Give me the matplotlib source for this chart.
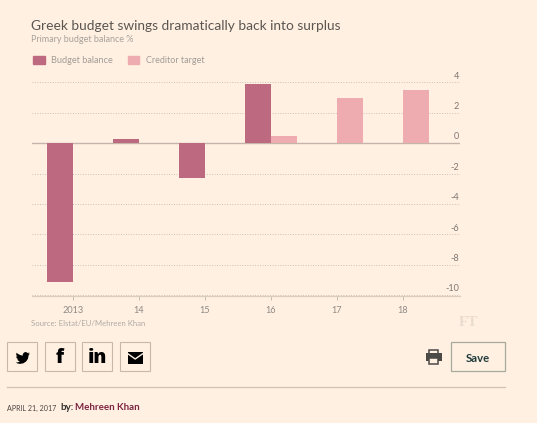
import matplotlib
matplotlib.use("Agg")
import matplotlib.pyplot as plt
from matplotlib.patches import Rectangle, Polygon

years = ["2013", "14", "15", "16", "17", "18"]
budget_balance = [-9.1, 0.3, -2.3, 3.9, None, None]
creditor_target = [None, None, None, 0.5, 3.0, 3.5]
y_ticks = [4, 2, 0, -2, -4, -6, -8, -10]

BG = "#fff0e2"
C1 = "#bd6a81"
C2 = "#eeabb0"
TXT = "#8f8a84"
W, H = 537, 423
plt.rcParams["font.family"] = ["Lato", "DejaVu Sans"]

fig = plt.figure(figsize=(W / 100, H / 100), dpi=100, facecolor=BG)

# full-figure pixel overlay for page furniture
pg = fig.add_axes([0, 0, 1, 1], zorder=0)
pg.set_xlim(0, W); pg.set_ylim(H, 0); pg.axis("off")

# chart axes, positioned in pixels
L, R, T, B = 32, 460, 82.5, 296
ax = fig.add_axes([L / W, 1 - B / H, (R - L) / W, (B - T) / H], zorder=1)
ax.patch.set_alpha(0)
ax.set_xlim((L - 73) / 66, (R - 73) / 66)
ax.set_ylim(-10.05, 4)
w = 26 / 66
for i, v in enumerate(budget_balance):
    if v is not None:
        ax.bar(i - w / 2, v, w, color=C1, zorder=3)
for i, v in enumerate(creditor_target):
    if v is not None:
        ax.bar(i + w / 2, v, w, color=C2, zorder=3)
for s in ax.spines.values():
    s.set_visible(False)
ax.spines["bottom"].set_visible(True)
ax.spines["bottom"].set_color("#d9cdc0")
ax.spines["bottom"].set_linewidth(0.9)
ax.set_yticks(y_ticks)
ax.set_yticklabels([])
ax.tick_params(axis="y", length=0)
ax.grid(axis="y", color="#c9c0b6", linestyle=(0, (1, 1.6)), linewidth=0.7, zorder=1)
ax.axhline(0, color="#c4b4aa", linewidth=1.0, zorder=2)
ax.set_axisbelow(True)
ax.set_xticks(range(len(years)))
ax.set_xticklabels(years, fontsize=6.6, color=TXT)
ax.tick_params(axis="x", length=3, width=0.7, color="#c9bdb0", pad=4)
for t in y_ticks:
    ax.annotate(str(t), (1, t), xycoords=("axes fraction", "data"),
                xytext=(-0.5, 4.6), textcoords="offset points",
                ha="right", va="center", fontsize=6.6, color="#7d7873")

# titles
pg.text(31, 26.5, "Greek budget swings dramatically back into surplus",
        fontsize=9.95, color="#5b5652", va="center", ha="left")
pg.text(31, 39.5, "Primary budget balance %", fontsize=6.5, color="#a8a29b", va="center")

# legend
pg.add_patch(Rectangle((33, 56), 12, 8, color=C1))
pg.text(51, 60.5, "Budget balance", fontsize=6.6, color="#a29c96", va="center")
pg.add_patch(Rectangle((128, 56), 11, 8, color=C2))
pg.text(146, 60.5, "Creditor target", fontsize=6.5, color="#a29c96", va="center")

# source and watermark
pg.text(31, 323, "Source: Elstat/EU/Mehreen Khan", fontsize=5.55, color="#b0aaa3", va="center")
pg.text(468, 322, "FT", fontsize=11, color="#e9ddd0", va="center", ha="center",
        family="Liberation Serif", weight="bold")

# share buttons
for x0 in (7, 45, 82, 120):
    pg.add_patch(Rectangle((x0, 342), 29.5, 29.5, fill=False, ec="#c5b9a9", lw=0.8))

bird = [(24, 4.6), (21.1, 5.35), (23.3, 2.6), (20.2, 3.8), (18.5, 2.6), (16.5, 2), (14, 2.9),
        (12, 5.5), (11.9, 8.1), (7.5, 7), (4, 5.2), (1.64, 3.16), (1, 5.6), (1.5, 7.8),
        (3.16, 9.73), (0.93, 9.12), (1.3, 11.2), (2.5, 12.9), (4.87, 14), (2.66, 14.1),
        (3.8, 16), (5.5, 17.1), (7.26, 17.5), (4, 19.2), (1.16, 19.6), (0, 19.55), (3.5, 21.2),
        (7.56, 21.8), (13, 20.8), (17.5, 17.8), (20.5, 13.5), (21.55, 8.8), (21.54, 7.5)]
pg.add_patch(Polygon([(15.6 + x * 0.6, 350.8 + y * 0.6) for x, y in bird], color="#000000", lw=0))
pg.text(59.5, 358, "f", fontsize=14, color="black", weight="black", ha="center", va="center",
        family="Open Sans")
pg.text(97.5, 358, "in", fontsize=14, color="black", weight="black", ha="center", va="center",
        family="Open Sans")

# envelope
pg.add_patch(Rectangle((127.5, 352), 15.5, 12, color="black", lw=0))
pg.plot([127.5, 135.2, 143], [353.5, 359, 353.5], color=BG, lw=1.0)

# printer
pg.add_patch(Rectangle((429, 350), 9, 5, fill=False, ec="#4c4a47", lw=1.1))
pg.add_patch(Rectangle((426, 353.5), 15.5, 8, color="#4c4a47", lw=0))
pg.add_patch(Rectangle((429, 358), 9, 6, fc=BG, ec="#4c4a47", lw=1.1))

# save button
pg.add_patch(Rectangle((451, 342), 53.5, 29.5, fill=False, ec="#a6a99b", lw=0.9))
pg.text(478, 358, "Save", fontsize=8.2, color="#1f3b3b", weight="bold", ha="center", va="center")

# rule and byline
pg.plot([7, 505], [387.5, 387.5], color="#cfc2b1", lw=0.9)
pg.text(7, 408.5, "APRIL 21, 2017", fontsize=5.1, color="#4a4642", va="center")
pg.text(60.5, 408, "by:", fontsize=7.0, color="#33302d", va="center", weight="bold")
pg.text(75, 408, "Mehreen Khan", fontsize=7.0, color="#7d2440", va="center", weight="bold")

fig.savefig("out.png", dpi=100, facecolor=BG)
